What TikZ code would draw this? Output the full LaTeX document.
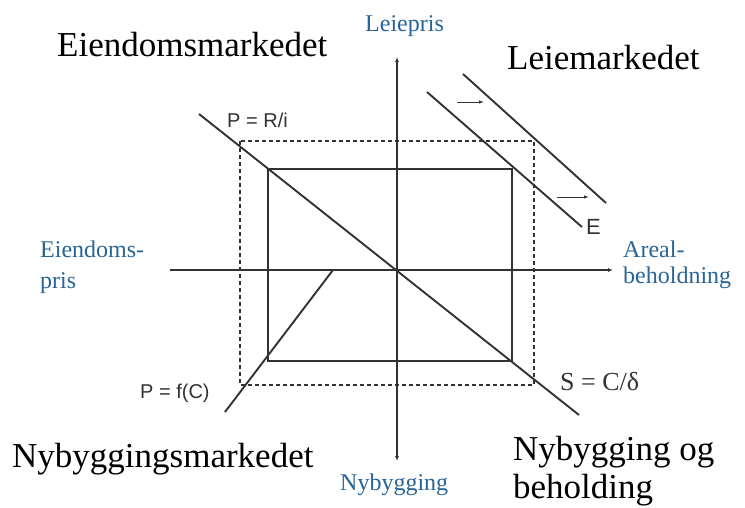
\documentclass[tikz,border=0pt]{standalone}
\usepackage{fontspec}
\setmainfont{Liberation Serif}
\newfontfamily\labelsans{Liberation Sans}
\usetikzlibrary{arrows.meta}
\definecolor{axisblue}{RGB}{40,100,150}
\definecolor{linegray}{RGB}{50,50,50}

\begin{document}
\begin{tikzpicture}[
    x=1pt,
    y=-1pt,
    axtip/.tip={Latex[length=5pt,width=4pt]},
    curve/.style={draw=linegray, line width=1.9pt},
    axis/.style={draw=linegray, line width=1.6pt},
    box/.style={draw=linegray, line width=1.6pt},
    guide/.style={draw=linegray, line width=1.2pt, dash pattern=on 4pt off 3pt},
    shiftarrow/.style={draw=linegray, line width=0.8pt, -{Latex[length=5pt,width=3.5pt]}},
    market/.style={font=\fontsize{35}{40}\selectfont, inner sep=0pt, anchor=base west},
    axislabel/.style={font=\fontsize{24}{28}\selectfont, text=axisblue, inner sep=0pt, anchor=base west},
    curvelabel/.style={font=\labelsans\fontsize{20}{24}\selectfont, text=linegray, inner sep=0pt, anchor=base west}
]
\useasboundingbox (0,0) rectangle (745,508);

% Axes
\coordinate (o)      at (397,270);
\coordinate (ytop)   at (397,57);
\coordinate (ybot)   at (397,461);
\coordinate (xleft)  at (170,270);
\coordinate (xright) at (613,270);
\draw[axis,axtip-axtip] (ybot) -- (ytop);
\draw[axis,-axtip] (xleft) -- (xright);

% Stock and flow boxes
\coordinate (sTL) at (268,169);
\coordinate (sBR) at (512,361);
\coordinate (dTL) at (240,141);
\coordinate (dBR) at (534,385);
\draw[box] (sTL) rectangle (sBR);
\draw[guide] (dTL) rectangle (dBR);

% Curves
\coordinate (pa) at (199,114);
\coordinate (pb) at (579,415);
\draw[curve] (pa) -- (pb);
\coordinate (ea) at (427,92);
\coordinate (eb) at (582,227);
\draw[curve] (ea) -- (eb);
\coordinate (fa) at (463,74);
\coordinate (fb) at (606,203);
\draw[curve] (fa) -- (fb);
\coordinate (ca) at (225,412);
\coordinate (cb) at (333,270);
\draw[curve] (ca) -- (cb);

% Demand shift
\coordinate (s1a) at (457,102);
\coordinate (s1b) at (484,102);
\coordinate (s2a) at (557,197);
\coordinate (s2b) at (589,197);
\draw[shiftarrow] (s1a) -- (s1b);
\draw[shiftarrow] (s2a) -- (s2b);

% Quadrant titles
\node[market] (eiendom) at (57,57)  {Eiendomsmarkedet};
\node[market] (leie)    at (507,70) {Leiemarkedet};
\node[market] (nymark)  at (12,467) {Nybyggingsmarkedet};
\node[market] (nyog)    at (513,460) {Nybygging og};
\node[market] (behold)  at (513,498) {beholding};

% Axis labels
\node[axislabel] (leiepris) at (365,32)  {Leiepris};
\node[axislabel] (eprisa)   at (40,258)  {Eiendoms-};
\node[axislabel] (eprisb)   at (40,288)  {pris};
\node[axislabel] (areala)   at (623,257) {Areal-};
\node[axislabel] (arealb)   at (623,283) {beholdning};
\node[axislabel] (nybyg)    at (340,490) {Nybygging};

% Curve labels
\node[curvelabel] (pri)  at (227,128) {P = R/i};
\node[curvelabel] (pfc)  at (140,398) {P = f(C)};
\node[curvelabel, font=\labelsans\fontsize{22}{26}\selectfont] (elab) at (586,235) {E};
\node[market, font=\fontsize{26}{30}\selectfont, text=linegray] (scd) at (560,390) {S = C/δ};
\end{tikzpicture}
\end{document}
